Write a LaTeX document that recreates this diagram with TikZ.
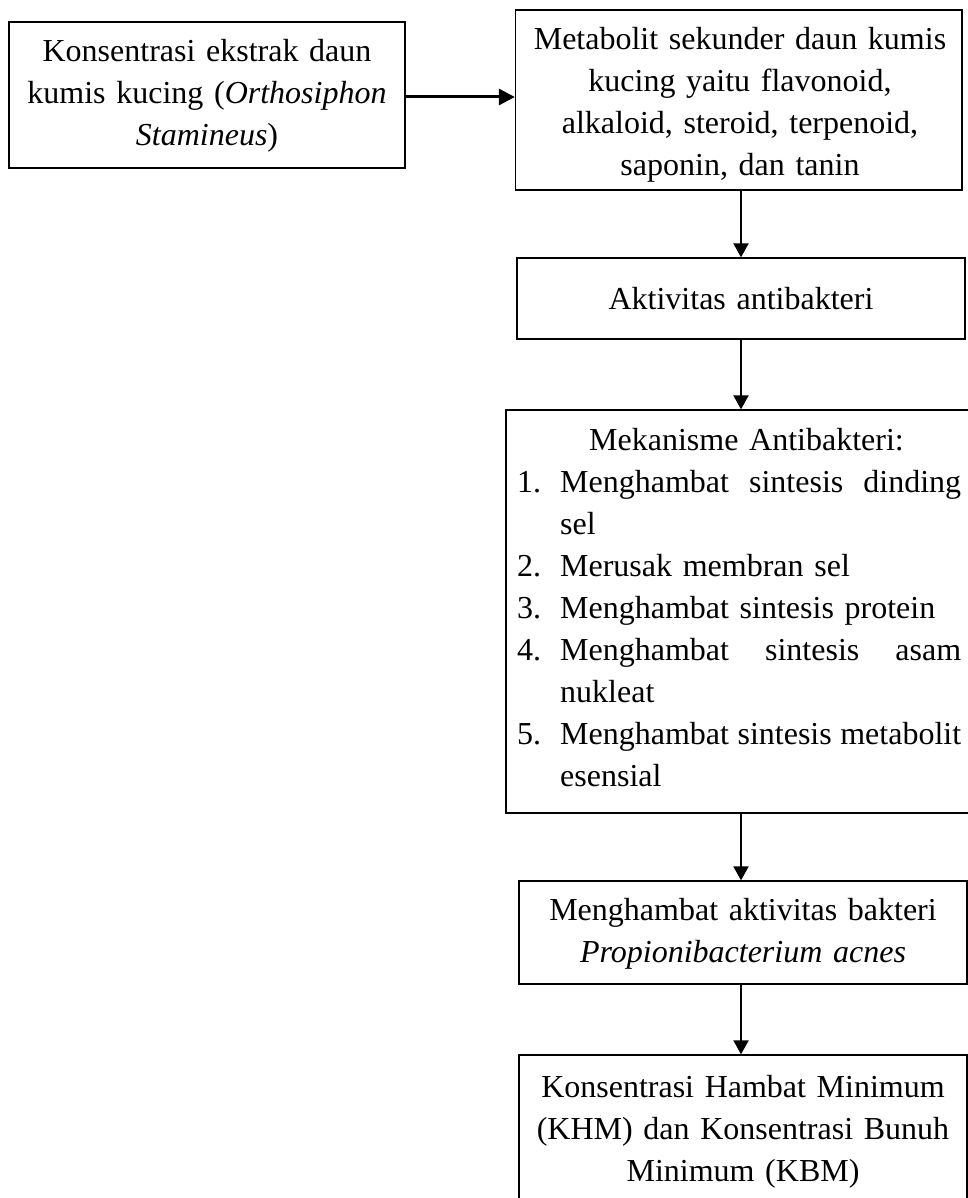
\documentclass[tikz,border=0pt]{standalone}
\usepackage{fontspec}
\setmainfont{Liberation Serif}
\usetikzlibrary{arrows.meta}
\newcommand{\jline}[1]{\hbox to 401pt{#1}}
\begin{document}
\begin{tikzpicture}[x=1pt,y=-1pt,
  box/.style={draw=black,line width=1.3pt,rectangle,inner sep=0pt},
  txt/.style={inner sep=0pt,anchor=base,align=center,font=\fontsize{32}{42}\selectfont},
  varr/.style={line width=2pt,-{Triangle[length=14pt,width=15pt]}},
  harr/.style={line width=3pt,-{Triangle[length=16pt,width=16pt]}}]
\useasboundingbox (0,0) rectangle (968,1198);
\clip (0,0) rectangle (968,1198);
% boxes
\node[box,minimum width=396pt,minimum height=146pt] (b1) at (207,95) {};
\node[box,minimum width=446.5pt,minimum height=180pt] (b2) at (738.75,100) {};
\node[box,minimum width=448pt,minimum height=81pt] (b3) at (741,298.5) {};
\node[box,minimum width=466pt,minimum height=403pt] (b4) at (739,611.5) {};
\node[box,minimum width=448pt,minimum height=103pt] (b5) at (743,932.5) {};
\node[box,minimum width=448pt,minimum height=147pt] (b6) at (743,1128.5) {};
% texts
\node[txt,text width=390pt] (t1) at (207,62) {Konsentrasi ekstrak daun\\ kumis kucing (\textit{Orthosiphon}\\ \textit{Stamineus})};
\node[txt,text width=440pt] (t2) at (740,50) {Metabolit sekunder daun kumis\\ kucing yaitu flavonoid,\\ alkaloid, steroid, terpenoid,\\ saponin, dan tanin};
\node[txt,text width=440pt] (t3) at (741,309) {Aktivitas antibakteri};
\node[txt,text width=444pt,align=left,anchor=base west] (t4) at (517,450) {%
\makebox[444pt][l]{\hspace*{72pt}Mekanisme Antibakteri:}\\
\makebox[43pt][l]{1.}\jline{Menghambat\hfill sintesis\hfill dinding}\\
\makebox[43pt][l]{}sel\\
\makebox[43pt][l]{2.}Merusak membran sel\\
\makebox[43pt][l]{3.}Menghambat sintesis protein\\
\makebox[43pt][l]{4.}\jline{Menghambat\hfill sintesis\hfill asam}\\
\makebox[43pt][l]{}nukleat\\
\makebox[43pt][l]{5.}\jline{Menghambat\hfill sintesis\hfill metabolit}\\
\makebox[43pt][l]{}esensial};
\node[txt,text width=440pt] (t5) at (743,920) {Menghambat aktivitas bakteri\\ \textit{Propionibacterium acnes}};
\node[txt,text width=440pt] (t6) at (743,1097) {Konsentrasi Hambat Minimum\\ (KHM) dan Konsentrasi Bunuh\\ Minimum (KBM)};
% connectors
\coordinate (ax) at (741,0);
\coordinate (ay) at (0,97);
\draw[harr] (b1.east |- ay) -- (b2.west |- ay);
\draw[varr] (b2.south -| ax) -- (b3.north -| ax);
\draw[varr] (b3.south -| ax) -- (b4.north -| ax);
\draw[varr] (b4.south -| ax) -- (b5.north -| ax);
\draw[varr] (b5.south -| ax) -- (b6.north -| ax);
\end{tikzpicture}
\end{document}
